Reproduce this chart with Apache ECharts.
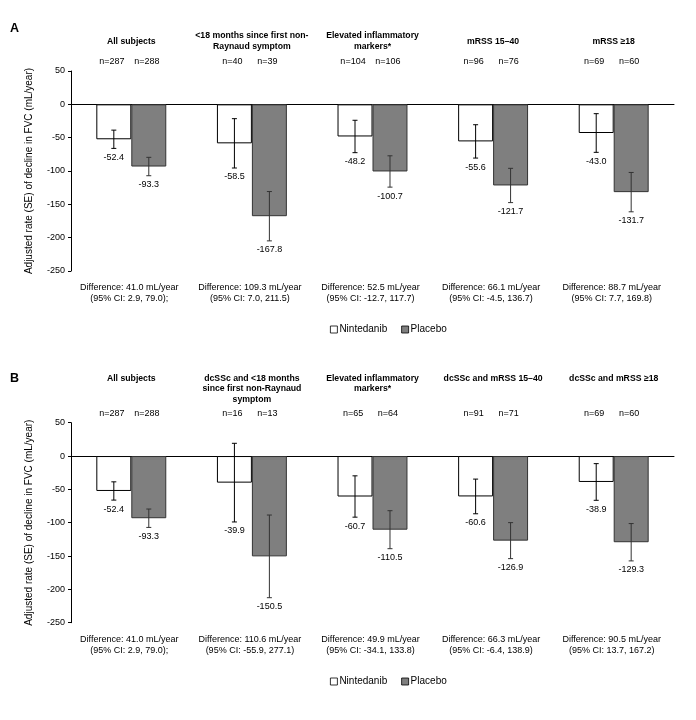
<!DOCTYPE html>
<html>
<head>
<meta charset="utf-8">
<script src="https://cdn.jsdelivr.net/npm/echarts@6/dist/echarts.min.js"></script>
<style>
html,body{margin:0;padding:0;background:#fff;}
#chart{width:696px;height:720px;}
</style>
</head>
<body>
<div id="chart"></div>
<script>
// ---------- Panel A data ----------
const titlesA = ['All subjects', '<18 months since first non-\nRaynaud symptom', 'Elevated inflammatory\nmarkers*', 'mRSS 15–40', 'mRSS ≥18'];
const nintA = [-52.4, -58.5, -48.2, -55.6, -43.0];
const placA = [-93.3, -167.8, -100.7, -121.7, -131.7];
const nintSeA = [13.7, 37.0, 24.3, 25.0, 29.0];
const placSeA = [13.8, 37.0, 23.5, 25.7, 29.5];
const nNintA = [287, 40, 104, 96, 69];
const nPlacA = [288, 39, 106, 76, 60];
const diffA = [
  'Difference: 41.0 mL/year\n(95% CI: 2.9, 79.0);',
  'Difference: 109.3 mL/year\n(95% CI: 7.0, 211.5)',
  'Difference: 52.5 mL/year\n(95% CI: -12.7, 117.7)',
  'Difference: 66.1 mL/year\n(95% CI: -4.5, 136.7)',
  'Difference: 88.7 mL/year\n(95% CI: 7.7, 169.8)'
];
// ---------- Panel B data ----------
const titlesB = ['All subjects', 'dcSSc and <18 months\nsince first non-Raynaud\nsymptom', 'Elevated inflammatory\nmarkers*', 'dcSSc and mRSS 15–40', 'dcSSc and mRSS ≥18'];
const nintB = [-52.4, -39.9, -60.7, -60.6, -38.9];
const placB = [-93.3, -150.5, -110.5, -126.9, -129.3];
const nintSeB = [13.7, 59.0, 31.0, 26.0, 27.5];
const placSeB = [13.8, 62.0, 28.5, 27.0, 28.0];
const nNintB = [287, 16, 65, 91, 69];
const nPlacB = [288, 13, 64, 71, 60];
const diffB = [
  'Difference: 41.0 mL/year\n(95% CI: 2.9, 79.0);',
  'Difference: 110.6 mL/year\n(95% CI: -55.9, 277.1)',
  'Difference: 49.9 mL/year\n(95% CI: -34.1, 133.8)',
  'Difference: 66.3 mL/year\n(95% CI: -6.4, 138.9)',
  'Difference: 90.5 mL/year\n(95% CI: 13.7, 167.2)'
];
const categories = ['g1', 'g2', 'g3', 'g4', 'g5'];
const yMin = -250, yMax = 50, yStep = 50;

const FONT = '"Liberation Sans", Arial, sans-serif';
const BAR_FRAC = 0.29;
const GRAY = '#7f7f7f';

const chart = echarts.init(document.getElementById('chart'));

function errorSeries(idx, vals, ses, sign, color) {
  return {
    type: 'custom', xAxisIndex: idx, yAxisIndex: idx, z: 10, silent: true, clip: false,
    data: vals.map((v, i) => [i, v, ses[i]]),
    renderItem: function (params, api) {
      const i = api.value(0), v = api.value(1), se = api.value(2);
      const band = api.size([1, 0])[0];
      const off = band * BAR_FRAC / 2 * sign;
      const c = api.coord([i, v]);
      const hi = api.coord([i, v + se]);
      const lo = api.coord([i, v - se]);
      const x = c[0] + off;
      const cap = 2.5;
      const ls = { stroke: color, lineWidth: 1 };
      return {
        type: 'group', children: [
          { type: 'line', shape: { x1: x, y1: hi[1], x2: x, y2: lo[1] }, style: ls },
          { type: 'line', shape: { x1: x - cap, y1: hi[1], x2: x + cap, y2: hi[1] }, style: ls },
          { type: 'line', shape: { x1: x - cap, y1: lo[1], x2: x + cap, y2: lo[1] }, style: ls },
          { type: 'text', style: { text: v.toFixed(1), x: x, y: lo[1] + 9, align: 'center', verticalAlign: 'middle', fontSize: 9, fontFamily: FONT, fill: '#000' } }
        ]
      };
    }
  };
}

function annotSeries(idx, titles, nN, nP, diffs, titleMode) {
  return {
    type: 'custom', xAxisIndex: idx, yAxisIndex: idx, z: 5, silent: true, clip: false,
    data: titles.map((t, i) => [i, yMax]),
    renderItem: function (params, api) {
      const i = params.dataIndex;
      const band = api.size([1, 0])[0];
      const off = band * BAR_FRAC / 2;
      const top = api.coord([i, yMax]);
      const bot = api.coord([i, yMin]);
      const cx = top[0];
      const titleStyle = { text: titles[i], x: cx, align: 'center', fontSize: 8.7, fontWeight: 'bold', fontFamily: FONT, fill: '#000', lineHeight: 10.7 };
      if (titleMode === 'middle') { titleStyle.y = top[1] - 29.7; titleStyle.verticalAlign = 'middle'; }
      else { titleStyle.y = top[1] - 49.8; titleStyle.verticalAlign = 'top'; }
      const nStyle = (t, x) => ({ text: t, x: x, y: top[1] - 9, align: 'center', verticalAlign: 'middle', fontSize: 9, fontFamily: FONT, fill: '#000' });
      return {
        type: 'group', children: [
          { type: 'text', style: titleStyle },
          { type: 'text', style: nStyle('n=' + nN[i], cx - off - 2) },
          { type: 'text', style: nStyle('n=' + nP[i], cx + off - 2) },
          { type: 'text', style: { text: diffs[i], x: cx - 2, y: bot[1] + 11.5, align: 'center', verticalAlign: 'top', fontSize: 9, fontFamily: FONT, fill: '#000', lineHeight: 10.7 } }
        ]
      };
    }
  };
}

function xAx(idx) {
  return {
    type: 'category', gridIndex: idx, data: categories, boundaryGap: true,
    axisLine: { show: true, onZero: true, lineStyle: { color: '#000', width: 1 } },
    axisTick: { show: false }, axisLabel: { show: false }, splitLine: { show: false }
  };
}
function yAx(idx) {
  return {
    type: 'value', gridIndex: idx, min: yMin, max: yMax, interval: yStep,
    name: 'Adjusted rate (SE) of decline in FVC (mL/year)', nameLocation: 'middle', nameRotate: 90, nameGap: 37,
    nameTextStyle: { fontSize: 10, fontFamily: FONT, color: '#000' },
    axisLine: { show: true, lineStyle: { color: '#000', width: 1 } },
    axisTick: { show: true, length: 3, lineStyle: { color: '#000' } },
    axisLabel: { fontSize: 9, fontFamily: FONT, color: '#000', margin: 6 },
    splitLine: { show: false }
  };
}
function barSeries(idx, name, vals, color, border) {
  return {
    type: 'bar', name: name, xAxisIndex: idx, yAxisIndex: idx, data: vals,
    barWidth: (BAR_FRAC * 100) + '%', barGap: '0%', z: 2,
    itemStyle: { color: color, borderColor: border, borderWidth: 1 },
    emphasis: { disabled: true }
  };
}
function legendAt(top) {
  return {
    data: ['Nintedanib', 'Placebo'], top: top, left: 325, icon: 'rect',
    itemWidth: 7, itemHeight: 7, itemGap: 14,
    itemStyle: { borderWidth: 0.8, borderColor: '#000' },
    textStyle: { fontSize: 10, fontFamily: FONT, color: '#000', padding: [0, 0, 0, -3] },
    selectedMode: false
  };
}

chart.setOption({
  animation: false,
  backgroundColor: '#fff',
  textStyle: { fontFamily: FONT },
  graphic: [
    { type: 'text', left: 10, top: 22, style: { text: 'A', fontSize: 12.5, fontWeight: 'bold', fontFamily: FONT, fill: '#000' } },
    { type: 'text', left: 10, top: 372, style: { text: 'B', fontSize: 12.5, fontWeight: 'bold', fontFamily: FONT, fill: '#000' } }
  ],
  legend: [legendAt(319.5), legendAt(671.5)],
  grid: [
    { left: 71, right: 22, top: 71, height: 200 },
    { left: 71, right: 22, top: 422.7, height: 200 }
  ],
  xAxis: [xAx(0), xAx(1)],
  yAxis: [yAx(0), yAx(1)],
  series: [
    barSeries(0, 'Nintedanib', nintA, '#ffffff', '#000'),
    barSeries(0, 'Placebo', placA, GRAY, '#333'),
    barSeries(1, 'Nintedanib', nintB, '#ffffff', '#000'),
    barSeries(1, 'Placebo', placB, GRAY, '#333'),
    errorSeries(0, nintA, nintSeA, -1, '#000'),
    errorSeries(0, placA, placSeA, 1, '#333'),
    errorSeries(1, nintB, nintSeB, -1, '#000'),
    errorSeries(1, placB, placSeB, 1, '#333'),
    annotSeries(0, titlesA, nNintA, nPlacA, diffA, 'middle'),
    annotSeries(1, titlesB, nNintB, nPlacB, diffB, 'top')
  ]
});
</script>
</body>
</html>
